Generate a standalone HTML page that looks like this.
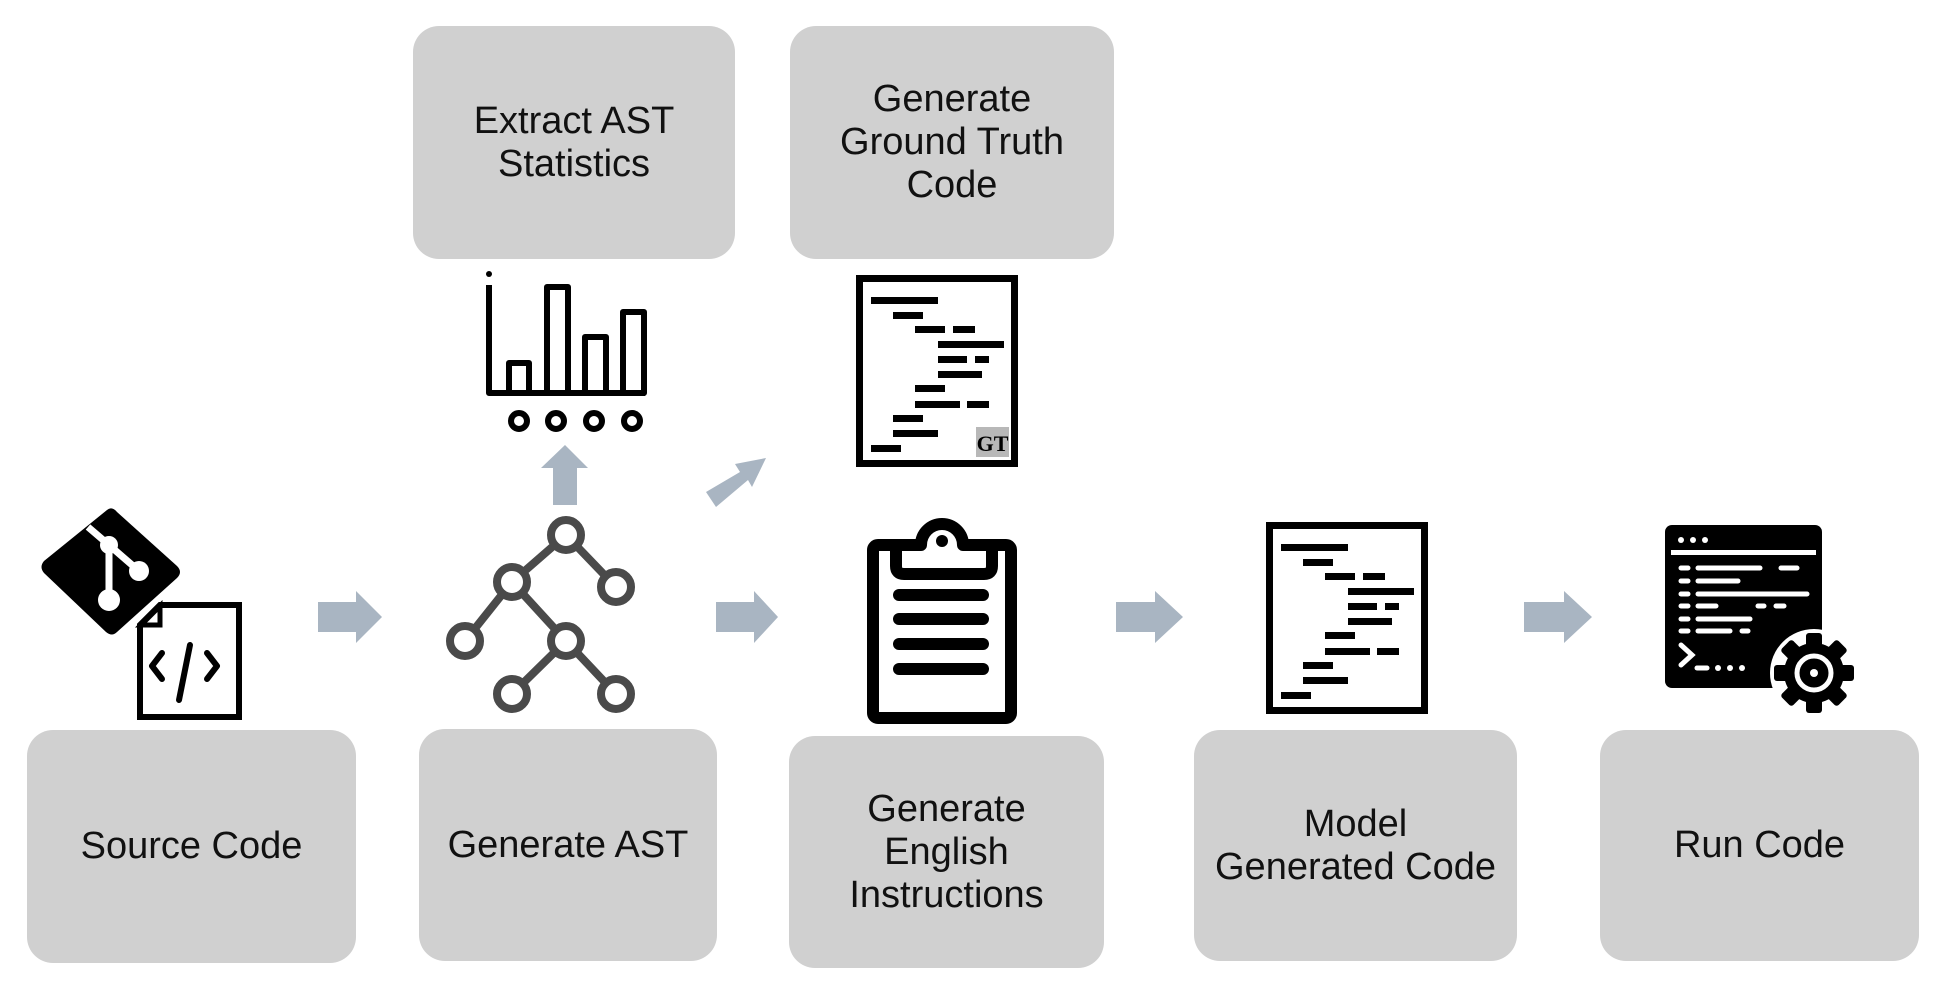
<!DOCTYPE html>
<html><head><meta charset="utf-8"><style>
html,body{margin:0;padding:0;background:#fff;}
body{width:1943px;height:984px;position:relative;overflow:hidden;font-family:"Liberation Sans",sans-serif;}
.b{position:absolute;background:#d0d0d0;border-radius:26px;display:flex;align-items:center;justify-content:center;text-align:center;font-size:38px;line-height:43px;color:#111;}
svg{position:absolute;left:0;top:0;}
</style></head><body>
<div class="b" style="left:413px;top:26px;width:322px;height:233px;">Extract AST<br>Statistics</div>
<div class="b" style="left:790px;top:26px;width:324px;height:233px;">Generate<br>Ground Truth<br>Code</div>
<div class="b" style="left:27px;top:730px;width:329px;height:233px;">Source Code</div>
<div class="b" style="left:419px;top:729px;width:298px;height:232px;">Generate AST</div>
<div class="b" style="left:789px;top:736px;width:315px;height:232px;">Generate<br>English<br>Instructions</div>
<div class="b" style="left:1194px;top:730px;width:323px;height:231px;">Model<br>Generated Code</div>
<div class="b" style="left:1600px;top:730px;width:319px;height:231px;">Run Code</div>
<svg width="1943" height="984" viewBox="0 0 1943 984">
<defs>
<g id="doc">
<rect x="859.5" y="278.5" width="155" height="185" fill="#fff" stroke="#000" stroke-width="7"/>
<g fill="#000">
<rect x="871" y="297" width="67" height="7"/><rect x="893" y="312" width="30" height="7"/>
<rect x="915" y="326" width="30" height="7"/><rect x="953" y="326" width="22" height="7"/>
<rect x="938" y="341" width="66" height="7"/>
<rect x="938" y="356" width="29" height="7"/><rect x="975" y="356" width="14" height="7"/>
<rect x="938" y="371" width="44" height="7"/>
<rect x="915" y="385" width="30" height="7"/>
<rect x="915" y="401" width="45" height="7"/><rect x="967" y="401" width="22" height="7"/>
<rect x="893" y="415" width="30" height="7"/><rect x="893" y="430" width="45" height="7"/>
<rect x="871" y="445" width="30" height="7"/>
</g></g>
</defs>
<g fill="#a9b5c2">
<polygon points="318,602 356,602 356,591 382,617 356,643 356,632 318,632"/>
<polygon points="716,602 754,602 754,591 778,617 754,643 754,632 716,632"/>
<polygon points="1116,602 1155,602 1155,591 1183,617 1155,643 1155,632 1116,632"/>
<polygon points="1524,602 1564,602 1564,591 1592,617 1564,643 1564,632 1524,632"/>
<polygon points="553,505 553,468 541,468 565,445 588,468 577,468 577,505"/>
<polygon points="706,492 740,472 735,464 766,458 752,487 748,480 716,507"/>
</g>
<path d="M107,510 Q112,506 117,512 L177,566 Q183,572 177,578 L117,632 Q112,637 106,632 L44,573 Q39,567 44,561 Z" fill="#000"/>
<g stroke="#fff" stroke-width="7" fill="none"><line x1="88" y1="527" x2="109" y2="545"/><line x1="109" y1="545" x2="109" y2="600"/><line x1="109" y1="545" x2="139" y2="571"/></g>
<g fill="#fff"><circle cx="109" cy="545" r="9"/><circle cx="139" cy="571" r="10"/><circle cx="109" cy="600" r="11"/></g>
<path d="M160,605 L239,605 L239,717 L140,717 L140,625 Z" fill="#fff" stroke="#000" stroke-width="6"/>
<path d="M141,625 L160,625 L160,606 Z" fill="#fff" stroke="#000" stroke-width="5"/>
<g stroke="#000" stroke-width="6" fill="none" stroke-linecap="round" stroke-linejoin="round"><polyline points="162,653 152,666 162,679"/><polyline points="207,653 217,666 207,679"/><line x1="190" y1="645" x2="179" y2="700"/></g>
<g stroke="#4a4a4a" stroke-width="8" fill="#fff">
<line x1="566" y1="535" x2="512" y2="582"/><line x1="566" y1="535" x2="616" y2="587"/>
<line x1="512" y1="582" x2="465" y2="641"/><line x1="512" y1="582" x2="566" y2="641"/>
<line x1="566" y1="641" x2="512" y2="694"/><line x1="566" y1="641" x2="616" y2="694"/>
<circle cx="566" cy="535" r="15"/><circle cx="512" cy="582" r="15"/><circle cx="616" cy="587" r="15"/>
<circle cx="465" cy="641" r="15"/><circle cx="566" cy="641" r="15"/><circle cx="512" cy="694" r="15"/><circle cx="616" cy="694" r="15"/>
</g>
<circle cx="489" cy="274" r="3" fill="#000"/>
<g stroke="#000" stroke-width="6" fill="none" stroke-linejoin="round">
<polyline points="489,285 489,393 645,393"/>
<rect x="509" y="363" width="20" height="30"/><rect x="547" y="287" width="21" height="106"/>
<rect x="585" y="337" width="21" height="56"/><rect x="623" y="312" width="21" height="81"/>
<circle cx="519" cy="421" r="8"/><circle cx="556" cy="421" r="8"/><circle cx="594" cy="421" r="8"/><circle cx="632" cy="421" r="8"/>
</g>
<use href="#doc"/>
<rect x="976" y="427" width="33" height="30" fill="#b8b8b8"/>
<text x="992.5" y="451" font-family="Liberation Serif,serif" font-weight="bold" font-size="22" text-anchor="middle" fill="#000">GT</text>
<g transform="translate(410,247)"><use href="#doc"/></g>
<rect x="873" y="545" width="138" height="173" rx="5" fill="#fff" stroke="#000" stroke-width="12"/>
<path d="M896,545 L921,545 A21,21 0 0 1 963,545 L992,545 L992,566 Q992,574 984,574 L904,574 Q896,574 896,566 Z" fill="#fff" stroke="#000" stroke-width="12" stroke-linejoin="round"/>
<circle cx="942" cy="541" r="6" fill="#000"/>
<g stroke="#000" stroke-width="12" stroke-linecap="round"><line x1="899" y1="595" x2="983" y2="595"/><line x1="899" y1="619" x2="983" y2="619"/><line x1="899" y1="644" x2="983" y2="644"/><line x1="899" y1="669" x2="983" y2="669"/></g>
<rect x="1665" y="525" width="157" height="163" rx="7" fill="#000"/>
<g fill="#fff"><circle cx="1681" cy="540" r="3"/><circle cx="1693" cy="540" r="3"/><circle cx="1705" cy="540" r="3"/>
<rect x="1671" y="550" width="145" height="5"/></g>
<g stroke="#fff" stroke-width="5" stroke-linecap="round">
<line x1="1681" y1="568" x2="1688" y2="568"/><line x1="1698" y1="568" x2="1760" y2="568"/><line x1="1781" y1="568" x2="1797" y2="568"/>
<line x1="1681" y1="581" x2="1688" y2="581"/><line x1="1698" y1="581" x2="1738" y2="581"/>
<line x1="1681" y1="594" x2="1688" y2="594"/><line x1="1698" y1="594" x2="1807" y2="594"/>
<line x1="1681" y1="606" x2="1688" y2="606"/><line x1="1698" y1="606" x2="1716" y2="606"/><line x1="1758" y1="606" x2="1764" y2="606"/><line x1="1776" y1="606" x2="1784" y2="606"/>
<line x1="1681" y1="619" x2="1688" y2="619"/><line x1="1698" y1="619" x2="1750" y2="619"/>
<line x1="1681" y1="631" x2="1688" y2="631"/><line x1="1698" y1="631" x2="1730" y2="631"/><line x1="1742" y1="631" x2="1748" y2="631"/>
<polyline points="1681,645 1692,655 1681,665" fill="none"/><line x1="1697" y1="668" x2="1707" y2="668"/>
</g>
<g fill="#fff"><circle cx="1718" cy="668" r="3"/><circle cx="1730" cy="668" r="3"/><circle cx="1742" cy="668" r="3"/></g>
<g transform="translate(1814,673)">
<circle r="44" fill="#fff"/>
<g fill="#000"><circle r="30"/>
<rect x="-8" y="-40" width="16" height="80" rx="3"/>
<rect x="-8" y="-40" width="16" height="80" rx="3" transform="rotate(45)"/>
<rect x="-8" y="-40" width="16" height="80" rx="3" transform="rotate(90)"/>
<rect x="-8" y="-40" width="16" height="80" rx="3" transform="rotate(135)"/></g>
<circle r="17" fill="none" stroke="#fff" stroke-width="5"/>
<circle r="4" fill="#fff"/>
</g>
</svg>
</body></html>
